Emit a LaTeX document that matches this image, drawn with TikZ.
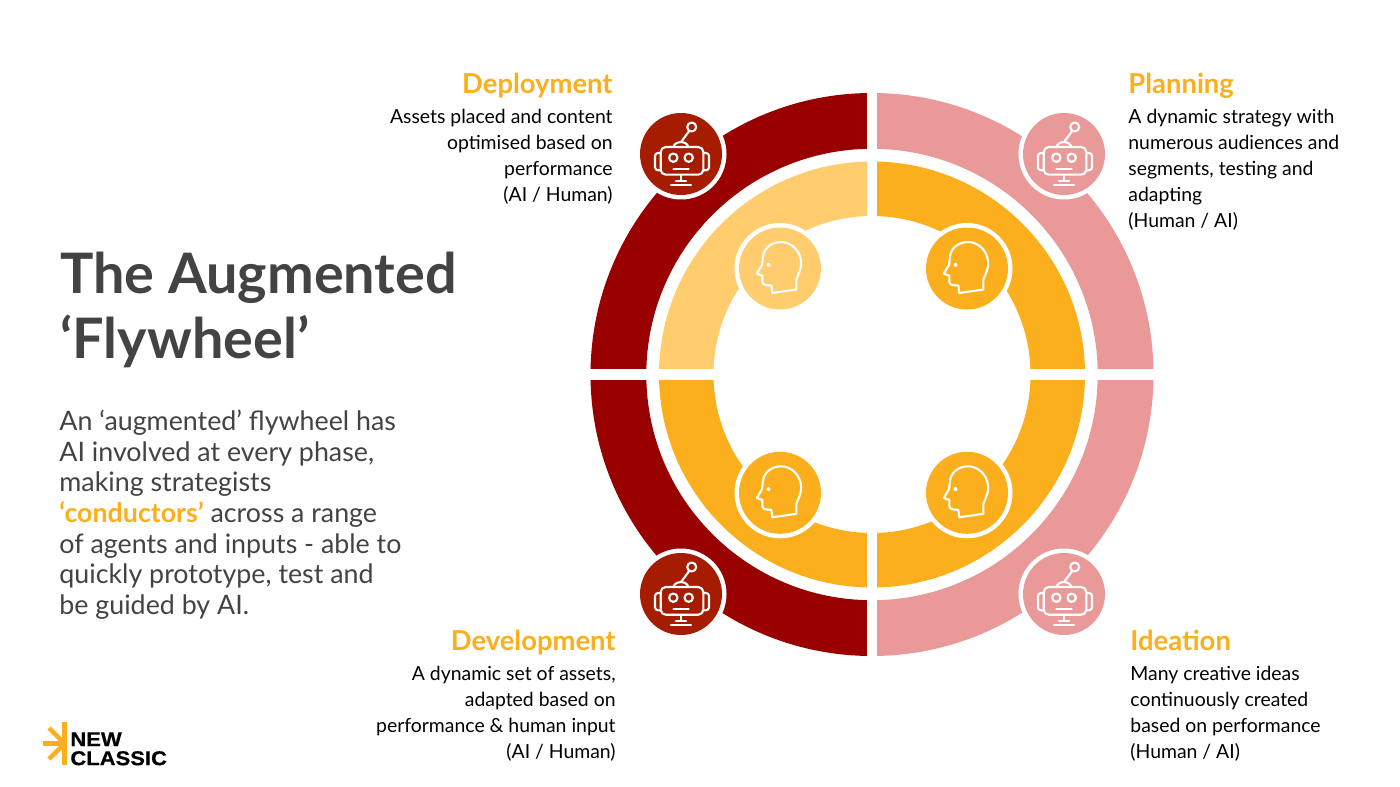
\documentclass[tikz,border=0pt]{standalone}
\usepackage{fontspec}
\setmainfont{Lato}
\newfontfamily\logofont[FakeBold=0.6,FakeStretch=1.1]{Liberation Sans Bold}
\definecolor{darkring}{HTML}{990000}
\definecolor{robotred}{HTML}{A61C00}
\definecolor{pinkring}{HTML}{EA9999}
\definecolor{amberring}{HTML}{FBAF1D}
\definecolor{lightamber}{HTML}{FFCD6E}
\definecolor{inkgrey}{HTML}{434343}
\tikzset{
  headingtext/.style={font=\bfseries\fontsize{13.7}{15}\selectfont, text=amberring, inner sep=0pt},
  bodytext/.style={font=\fontsize{9.7}{13}\selectfont, text=black, inner sep=0pt},
  iconline/.style={draw=white, line width=1.05pt, line cap=round, line join=round},
  logotext/.style={inner sep=0pt, align=left, font=\logofont\fontsize{10}{9.5}\selectfont},
}
\newcommand{\quadrant}[5]{% angle a, angle b, outer r, inner r, colour
  \fill[#5] (#1:#3) arc[start angle=#1,end angle=#2,radius=#3] -- (#2:#4) arc[start angle=#2,end angle=#1,radius=#4] -- cycle;}
\newcommand{\robotmark}[3]{%
  \begin{scope}[shift={(#1,#2)}]
    \fill[white] (0,0) circle[radius=45.5];
    \fill[#3] (0,0) circle[radius=41];
    \draw[iconline, rounded corners=2.5pt] (-20.3,-7) rectangle (22.3,20.7);
    \draw[iconline, rounded corners=1.5pt] (-20.3,-1) -- (-26,-1) -- (-26,16.3) -- (-20.3,16.3);
    \draw[iconline, rounded corners=1.5pt] (22.3,-1) -- (28,-1) -- (28,16.3) -- (22.3,16.3);
    \draw[iconline] (-7.7,3.7) circle[radius=4.2];
    \draw[iconline] (7.7,3.7) circle[radius=4.2];
    \draw[iconline] (-7.7,15.3) -- (7.7,15.3);
    \draw[iconline] (0,20.7) -- (0,26.7);
    \draw[iconline] (-5,26.7) -- (5,26.7);
    \draw[iconline] (-10,31.3) -- (10,31.3);
    \draw[iconline] (-7.7,-7) .. controls (-6,-13.5) and (6,-13.5) .. (7.3,-7);
    \draw[iconline] (0,-12) -- (8,-22.7);
    \draw[iconline] (10.7,-27) circle[radius=4.5];
  \end{scope}}
\newcommand{\headmark}[3]{%
  \begin{scope}[shift={(#1,#2)}]
    \fill[white] (0,0) circle[radius=45.5];
    \fill[#3] (0,0) circle[radius=41];
    \draw[iconline] (-7.7,24.5) -- (16.3,21) -- (16.3,11.3)
      .. controls (18,6) and (21.5,1) .. (21.2,-6)
      .. controls (20.5,-18) and (11,-26.5) .. (1.3,-26.5)
      .. controls (-9,-26.5) and (-16,-20) .. (-17,-12)
      -- (-18,-3.7) -- (-23.2,5) -- (-17.7,7.3) -- (-17.7,13)
      .. controls (-17.7,16) and (-15,17) .. (-8.7,17) -- cycle;
    \fill[white] (-11.5,-3.7) circle[radius=2];
  \end{scope}}
\begin{document}
\begin{tikzpicture}[x=0.5pt,y=-0.5pt]
\useasboundingbox (0,0) rectangle (1400,786);
\fill[white] (0,0) rectangle (1400,786);
% rings
\begin{scope}[shift={(872,374.5)}]
  \quadrant{180}{270}{281.5}{225.7}{darkring}
  \quadrant{90}{180}{281.5}{225.7}{darkring}
  \quadrant{270}{360}{281.5}{225.7}{pinkring}
  \quadrant{0}{90}{281.5}{225.7}{pinkring}
  \quadrant{180}{270}{213}{158.5}{lightamber}
  \quadrant{90}{180}{213}{158.5}{amberring}
  \quadrant{270}{360}{213}{158.5}{amberring}
  \quadrant{0}{90}{213}{158.5}{amberring}
  \fill[white] (-5,-290) rectangle (5,290);
  \fill[white] (-290,-5.5) rectangle (290,5.5);
\end{scope}
\robotmark{681}{154}{robotred}
\robotmark{1064}{154}{pinkring}
\robotmark{681}{594}{robotred}
\robotmark{1064}{594}{pinkring}
\headmark{780}{268.5}{lightamber}
\headmark{967}{268.5}{amberring}
\headmark{780}{492.8}{amberring}
\headmark{967}{492.8}{amberring}
% left text
\node[anchor=north west, inner sep=0pt, align=left, text=inkgrey,
      font=\bfseries\fontsize{27.9}{32.5}\selectfont] (title) at (60,252) {The Augmented\\‘Flywheel’};
\node[anchor=north west, inner sep=0pt, align=left, text=inkgrey,
      font=\fontsize{13.4}{15.35}\selectfont] (intro) at (59,409.5)
  {An ‘augmented’ flywheel has\\AI involved at every phase,\\making strategists\\{\bfseries\color{amberring}‘conductors’} across a range\\of agents and inputs - able to\\quickly prototype, test and\\be guided by AI.};
% captions
\node[headingtext, anchor=north east] (deployhead) at (613,73) {Deployment};
\node[bodytext, anchor=north east, align=right] (deploybody) at (613,109) {Assets placed and content\\optimised based on\\performance\\(AI / Human)};
\node[headingtext, anchor=north west] (planhead) at (1128,73) {Planning};
\node[bodytext, anchor=north west, align=left] (planbody) at (1128,109) {A dynamic strategy with\\numerous audiences and\\segments, testing and\\adapting\\(Human / AI)};
\node[headingtext, anchor=north east] (develophead) at (616,630) {Development};
\node[bodytext, anchor=north east, align=right] (developbody) at (616,666) {A dynamic set of assets,\\adapted based on\\performance \& human input\\(AI / Human)};
\node[headingtext, anchor=north west] (ideahead) at (1130,630) {Ideation};
\node[bodytext, anchor=north west, align=left] (ideabody) at (1130,666) {Many creative ideas\\continuously created\\based on performance\\(Human / AI)};
% logo
\draw[amberring, line width=2.2pt] (64.5,722) -- (64.5,765);
\draw[amberring, line width=2.2pt] (43,743.5) -- (62,743.5);
\draw[amberring, line width=2.2pt] (49,728) -- (62,741);
\draw[amberring, line width=2.2pt] (49,759) -- (62,746);
\node[logotext, anchor=north west] (logmark) at (70,732) {NEW\\CLASSIC};
\end{tikzpicture}
\end{document}
